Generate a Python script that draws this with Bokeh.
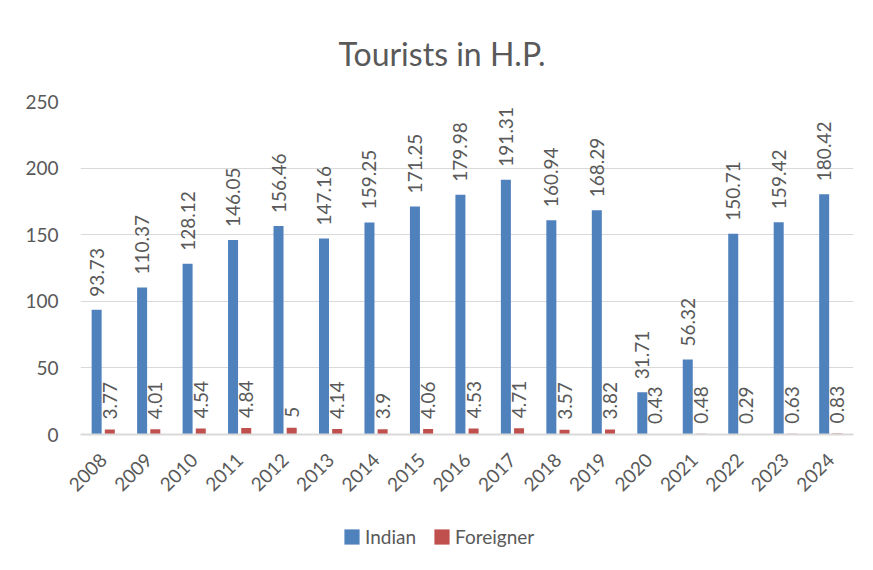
import math
from bokeh.plotting import figure
from bokeh.layouts import column
from bokeh.models import ColumnDataSource, FactorRange, Legend, LegendItem
from bokeh.transform import dodge
from bokeh.core.properties import value
from bokeh.embed import file_html
from bokeh.resources import INLINE

years = ["2008", "2009", "2010", "2011", "2012", "2013", "2014", "2015", "2016",
         "2017", "2018", "2019", "2020", "2021", "2022", "2023", "2024"]
indian = [93.73, 110.37, 128.12, 146.05, 156.46, 147.16, 159.25, 171.25, 179.98,
          191.31, 160.94, 168.29, 31.71, 56.32, 150.71, 159.42, 180.42]
foreigner = [3.77, 4.01, 4.54, 4.84, 5, 4.14, 3.9, 4.06, 4.53,
             4.71, 3.57, 3.82, 0.43, 0.48, 0.29, 0.63, 0.83]
y_ticks = [0, 50, 100, 150, 200, 250]
series_names = ["Indian", "Foreigner"]

TXT = "#595959"
FONT = "Lato"
BLUE = "#4F81BD"
RED = "#C0504D"
series_colors = [BLUE, RED]

src = ColumnDataSource(dict(
    year=years, indian=indian, foreigner=foreigner,
    ilab=[f"{v:g}" for v in indian], flab=[f"{v:g}" for v in foreigner],
))

p = figure(width=865, height=505,
           x_range=FactorRange(*years, range_padding=0),
           y_range=(0, 250), output_backend="svg", toolbar_location=None,
           min_border_left=80, min_border_right=12, min_border_top=101,
           min_border_bottom=71)
p.outline_line_color = None
p.background_fill_color = "white"
p.border_fill_color = "white"

p.title.text = "Tourists in H.P."
p.title.align = "left"
p.title.text_font = FONT
p.title.text_font_size = "32px"
p.title.text_font_style = "normal"
p.title.text_color = TXT
p.title.offset = 258
p.title.standoff = 58

p.vbar(x=dodge("year", -0.145, range=p.x_range), top="indian", width=0.22,
       source=src, fill_color=BLUE, line_color=None)
p.vbar(x=dodge("year", 0.145, range=p.x_range), top="foreigner", width=0.22,
       source=src, fill_color=RED, line_color=None)

common = dict(angle=math.pi / 2, text_align="left", text_baseline="middle",
              text_font=value(FONT), text_font_size="19px", text_color=TXT, source=src)
p.text(x=dodge("year", -0.145, range=p.x_range), y="indian", text="ilab",
       y_offset=-13, **common)
p.text(x=dodge("year", 0.145, range=p.x_range), y="foreigner", text="flab",
       y_offset=-10, **common)

# axes
p.yaxis.ticker = y_ticks
p.yaxis.axis_line_color = None
p.yaxis.major_tick_line_color = None
p.yaxis.minor_tick_line_color = None
p.yaxis.major_label_text_font = FONT
p.yaxis.major_label_text_font_size = "19px"
p.yaxis.major_label_text_color = TXT
p.yaxis.major_label_standoff = 16

p.xaxis.axis_line_color = "#D9D9D9"
p.xaxis.axis_line_width = 2
p.xaxis.major_tick_line_color = None
p.xaxis.major_label_orientation = math.pi / 4
p.xaxis.major_label_text_font = FONT
p.xaxis.major_label_text_font_size = "19px"
p.xaxis.major_label_text_color = TXT
p.xaxis.major_label_standoff = 16

p.xgrid.grid_line_color = None
p.ygrid.grid_line_color = "#D9D9D9"
p.ygrid.grid_line_width = 1

# legend strip below the chart (zero-height swatch bars, one per series)
lsrc = ColumnDataSource(dict(name=series_names, color=series_colors))
lp = figure(width=865, height=57, x_range=FactorRange(*series_names),
            y_range=(0, 1), output_backend="svg", toolbar_location=None,
            min_border=0)
lp.axis.visible = False
lp.grid.visible = False
lp.outline_line_color = None
lp.border_fill_color = "white"
sw = lp.vbar(x="name", top=0, bottom=0, width=0.1, fill_color="color",
             line_color=None, source=lsrc)
legend = Legend(items=[LegendItem(label=series_names[0], renderers=[sw], index=0),
                       LegendItem(label=series_names[1], renderers=[sw], index=1)],
                orientation="horizontal", location=(262, 14),
                label_text_font=FONT, label_text_font_size="19px",
                label_text_color=TXT, glyph_width=19, glyph_height=19,
                spacing=16, label_standoff=4, border_line_color=None,
                background_fill_alpha=0, padding=0, margin=0)
lp.add_layout(legend, "center")

open("out.html", "w").write(file_html(column(p, lp, spacing=0), INLINE))
